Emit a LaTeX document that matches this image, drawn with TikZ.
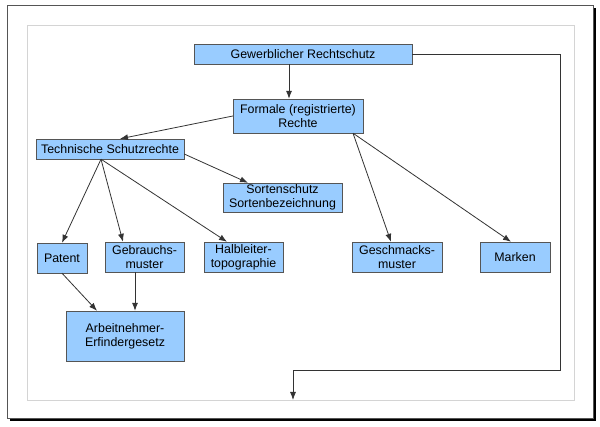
\documentclass[tikz,border=0pt]{standalone}
\usepackage{fontspec}
\setmainfont{Liberation Sans}
\usetikzlibrary{arrows.meta}
\definecolor{boxblue}{HTML}{99CCFF}
\definecolor{boxline}{HTML}{555555}
\definecolor{wireline}{HTML}{333333}
\definecolor{framegray}{HTML}{D4D4D4}
\begin{document}
\begin{tikzpicture}[
            x=1pt, y=-1pt,
            every node/.style={draw=boxline, fill=boxblue, rectangle, align=center, inner sep=0pt,
                font=\fontsize{12.4}{14}\selectfont},
            wire/.style={draw=wireline, line width=0.8pt, -{Latex[length=8pt,width=6pt]}}
        ]

        % page with shadow
        \useasboundingbox[fill=white] (0,0) rectangle (600,427);
        \fill[black] (10,418) rectangle (596,421);
        \fill[black] (593,8) rectangle (596,421);
        \draw[boxline, fill=white] (7,5) rectangle (593,418);
        \draw[framegray] (27,25) rectangle (574,400);

        % boxes
        \node[minimum width=218pt, minimum height=20pt] (gew) at (303,54) {Gewerblicher Rechtschutz};
        \node[minimum width=130pt, minimum height=34pt] (formal) at (298,116) {Formale (registrierte)\\Rechte};
        \node[minimum width=148pt, minimum height=20pt] (tech) at (110,149) {Technische Schutzrechte};
        \node[minimum width=119pt, minimum height=29pt] (sorten) at (282.5,197.5) {Sortenschutz\\Sortenbezeichnung};
        \node[minimum width=50pt, minimum height=30pt] (patent) at (62,258) {Patent};
        \node[minimum width=79pt, minimum height=30pt] (gebrauch) at (144.5,257) {Gebrauchs-\\muster};
        \node[minimum width=79pt, minimum height=30pt] (halb) at (243.5,257) {Halbleiter-\\topographie};
        \node[minimum width=90pt, minimum height=30pt] (geschm) at (397,257) {Geschmacks-\\muster};
        \node[minimum width=70pt, minimum height=30pt] (marken) at (515,257) {Marken};
        \node[minimum width=118pt, minimum height=50pt] (arbeit) at (125,336) {Arbeitnehmer-\\Erfindergesetz};

        \coordinate (turn) at (560,370);
        \coordinate (loopend) at (293,400);

        % connectors
        \draw[wire] ([xshift=-14pt]gew.south) -- ([xshift=-14pt]gew.south |- formal.north);
        \draw[wire] (formal.west) -- ([xshift=10pt]tech.north);
        \draw[wire] ([yshift=-5pt]tech.east) -- ([xshift=-34.5pt]sorten.north);
        \draw[wire] ([xshift=-9pt]tech.south) -- (patent.north);
        \draw[wire] ([xshift=-9pt]tech.south) -- ([xshift=-21.5pt]gebrauch.north);
        \draw[wire] ([xshift=-9pt]tech.south) -- ([xshift=-16.5pt]halb.north);
        \draw[wire] ([xshift=55pt]formal.south) -- ([xshift=-6pt]geschm.north);
        \draw[wire] ([xshift=55pt]formal.south) -- ([xshift=-4pt]marken.north);
        \draw[wire] (patent.south) -- ([xshift=-28pt]arbeit.north);
        \draw[wire] ([xshift=-9.5pt]gebrauch.south) -- ([xshift=-9.5pt]gebrauch.south |- arbeit.north);
        \draw[wire] (gew.east) -| (turn) -| (loopend);

        \end{tikzpicture}
\end{document}
